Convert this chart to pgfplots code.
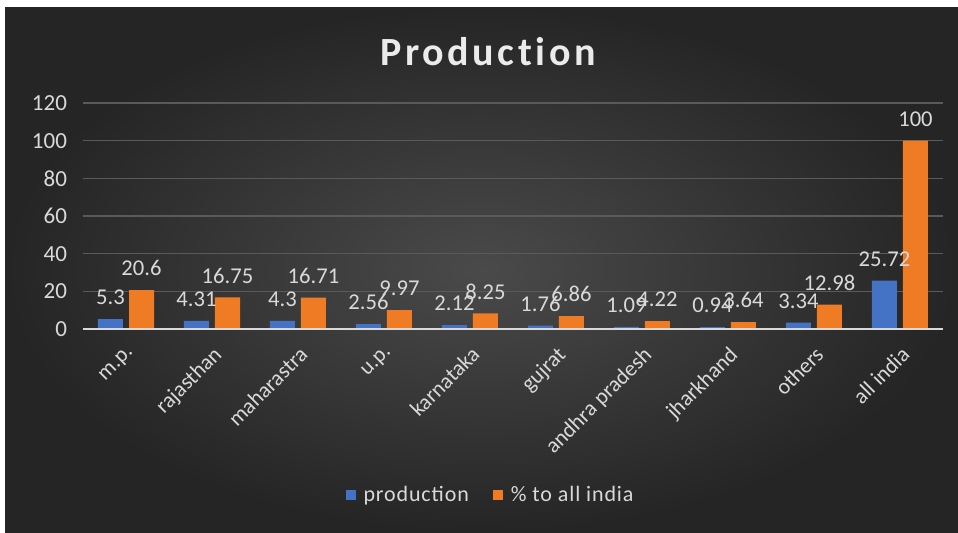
\documentclass[border=0pt]{standalone}
\usepackage{pgfplots}
\pgfplotsset{compat=1.18}
\usepackage{fontspec}
\setmainfont{Carlito}
\definecolor{bgin}{HTML}{4A4A4A}
\definecolor{bgout}{HTML}{252525}
\definecolor{pblue}{HTML}{4472C4}
\definecolor{porange}{HTML}{F07B25}
\definecolor{txt}{HTML}{D9D9D9}
\definecolor{gridc}{HTML}{5A5A5A}
\begin{document}
\begin{tikzpicture}
\fill[white] (0,0) rectangle (479pt,266pt);
\shade[inner color=bgin, outer color=bgout] (2.5pt,0) rectangle (479pt,262.5pt);
\node[text=white!92!black, font=\fontsize{20}{22}\selectfont\bfseries\addfontfeature{LetterSpace=9,Ligatures=NoCommon}] at (244pt,240pt) {Production};
\begin{axis}[
  at={(41.5pt,101.5pt)}, anchor=south west,
  scale only axis, width=430pt, height=113pt,
  xmin=-0.5, xmax=9.5, ymin=0, ymax=120,
  ytick={0,20,...,120},
  xtick={0,...,9},
  xticklabels={m.p., rajasthan, maharastra, u.p., karnataka, gujrat, andhra pradesh, jharkhand, others, all india},
  xticklabel style={xshift=0pt, yshift=-5pt, rotate=45, anchor=north east, text=txt, font=\fontsize{11}{12}\selectfont, inner sep=2pt},
  yticklabel style={text=txt, font=\fontsize{11.5}{12}\selectfont, xshift=-4.5pt},
  /pgf/number format/assume math mode=true,
  major tick length=0pt,
  ymajorgrids, grid style={gridc, line width=0.6pt},
  axis line style={draw=none},
  axis x line*=bottom,
  axis y line*=left,
  ybar=3pt, bar width=12.5pt,
  nodes near coords,
  nodes near coords style={text=txt, font=\fontsize{11.3}{12}\selectfont, anchor=south, yshift=3.5pt},
  legend style={at={(0.475,-0.735)}, anchor=center, draw=none, fill=none, legend columns=2, text=txt, font=\fontsize{11}{12}\selectfont\addfontfeature{LetterSpace=4}, /tikz/every even column/.append style={column sep=10pt}},
  legend image code/.code={\fill[#1] (0pt,-2.6pt) rectangle (5.2pt,2.6pt); \path (7pt,0pt);},
  clip=false,
]
\addplot[fill=pblue, draw=none] coordinates {(0,5.3) (1,4.31) (2,4.3) (3,2.56) (4,2.12) (5,1.76) (6,1.09) (7,0.94) (8,3.34) (9,25.72)};
\addplot[fill=porange, draw=none] coordinates {(0,20.6) (1,16.75) (2,16.71) (3,9.97) (4,8.25) (5,6.86) (6,4.22) (7,3.64) (8,12.98) (9,100)};
\draw[txt, line width=0.9pt] (axis cs:-0.5,0) -- (axis cs:9.5,0);
\legend{production, \% to all india}
\end{axis}
\end{tikzpicture}
\end{document}
